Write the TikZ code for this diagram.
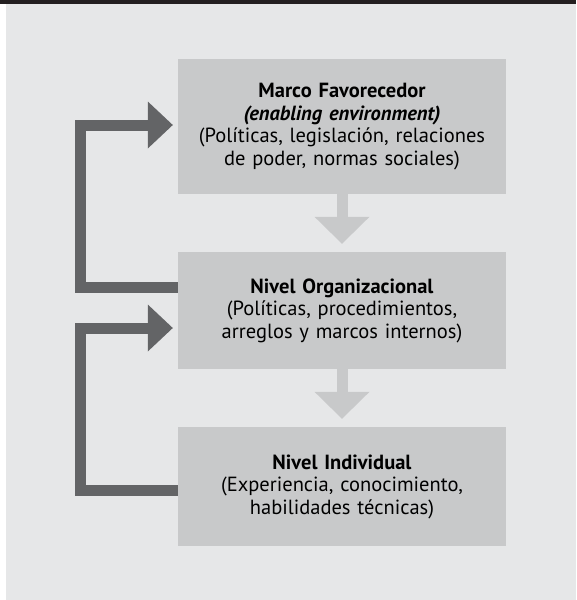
\documentclass[tikz,border=0pt]{standalone}
\usepackage{fontspec}
\setmainfont{PT Sans}
\usetikzlibrary{arrows.meta}
\definecolor{fondo}{HTML}{E6E7E8}
\definecolor{caja}{HTML}{C8C9CA}
\definecolor{flecha}{HTML}{636466}
\definecolor{barra}{HTML}{231F20}
\begin{document}
\begin{tikzpicture}[x=1pt,y=-1pt,
	nivel/.style={fill=caja, minimum width=328pt, text width=320pt, align=center, inner sep=0pt, font=\fontsize{20.5}{22.5}\selectfont},
	baja/.style={draw=caja, line width=11pt, -{Triangle[line width=0pt,width=55pt,length=27pt]}, shorten >=8pt},
	vuelta/.style={draw=flecha, line width=11pt, -{Triangle[line width=0pt,width=47pt,length=25pt]}, shorten >=5pt}]
	\begin{scope}
	  \useasboundingbox (0,0) rectangle (576,600);
	  \fill[white] (0,0) rectangle (576,600);
	  \fill[fondo] (6,4) rectangle (576,600); % fondo gris
	  \fill[barra] (0,0) rectangle (576,4);
	
	  \node[nivel, minimum height=135pt] (marco) at (342,126.5) {\textbf{Marco Favorecedor}\\ \textbf{\textit{(enabling environment)}}\\ (Políticas, legislación, relaciones\\ de poder, normas sociales)};
	  \node[nivel, minimum height=117pt] (organiz) at (342,310.5) {\textbf{Nivel Organizacional}\\ (Políticas, procedimientos,\\ arreglos y marcos internos)};
	  \node[nivel, minimum height=119pt] (individ) at (342,486.5) {\textbf{Nivel Individual}\\ (Experiencia, conocimiento,\\ habilidades técnicas)};
	
	  \draw[baja] (marco.south) -- (organiz.north);
	  \draw[baja] (organiz.south) -- (individ.north);
	
	  \draw[vuelta] ([yshift=23.5pt]organiz.west) -- ++(-97.5,0) |- ([yshift=1.5pt]marco.west);
	  \draw[vuelta] ([yshift=-3.5pt]individ.west) -- ++(-97.5,0) |- ([yshift=-17.5pt]organiz.west);
	\end{scope}
\end{tikzpicture}
\end{document}
